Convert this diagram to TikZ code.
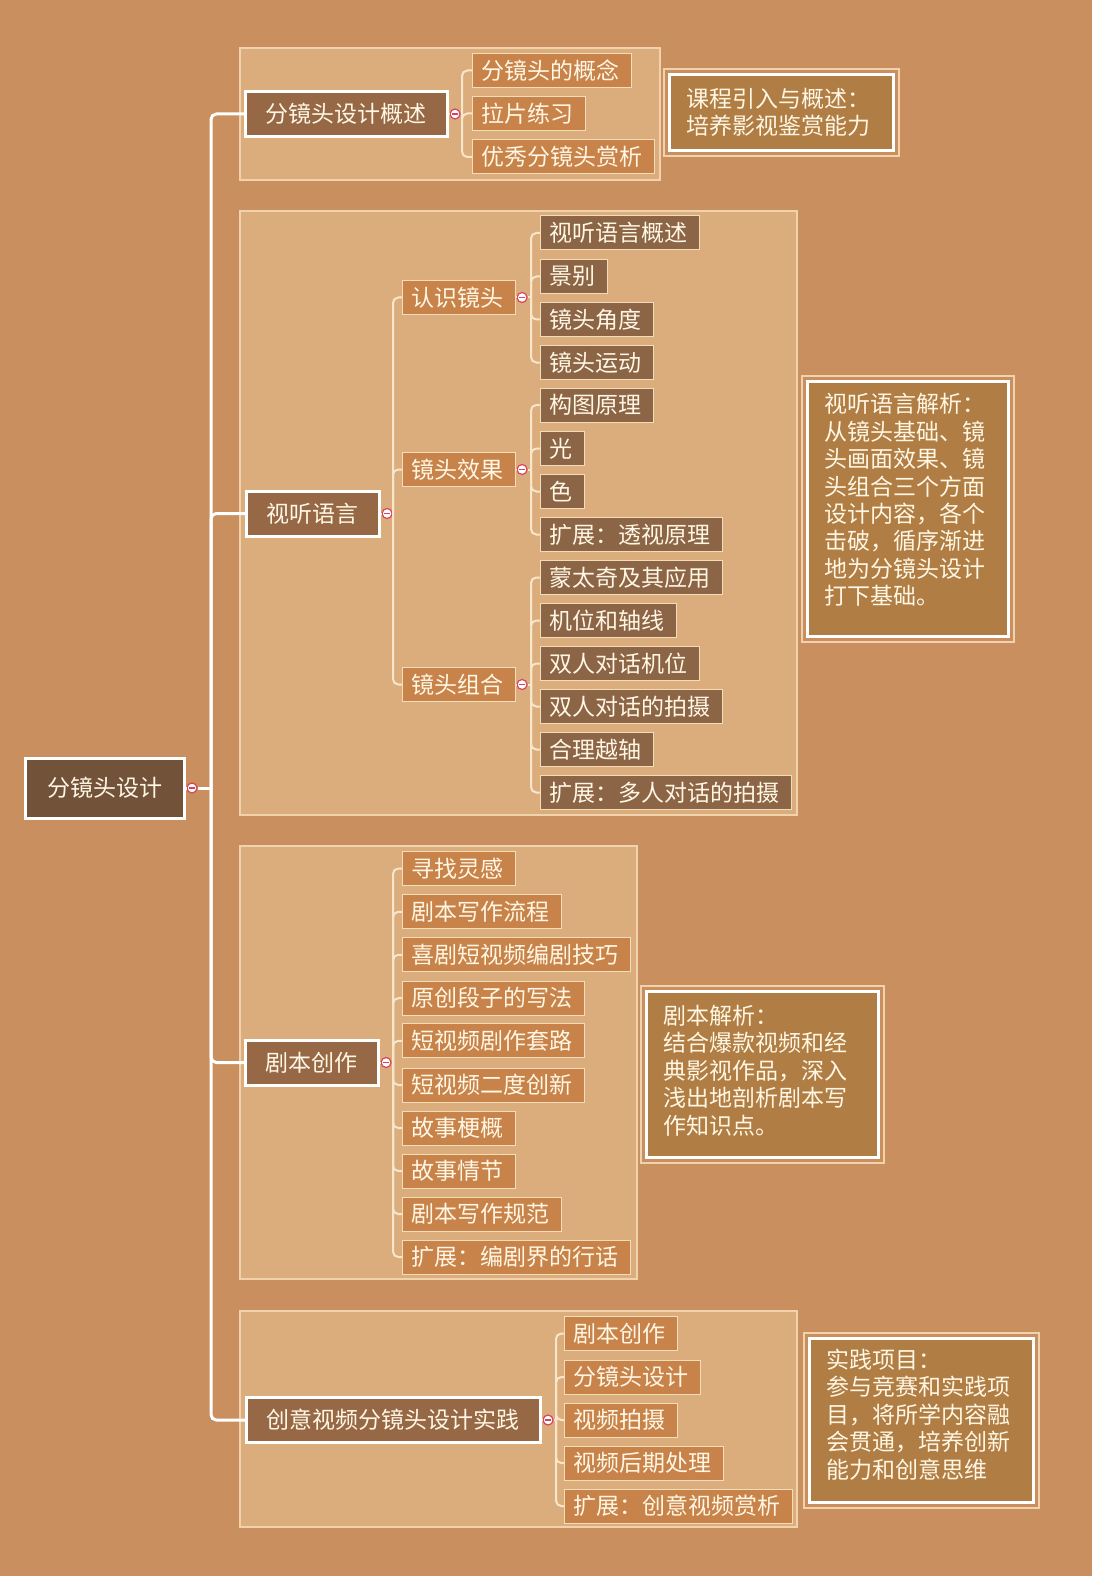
\documentclass[tikz,border=0pt]{standalone}
\usepackage{fontspec}
\setmainfont{Noto Sans CJK SC}
\definecolor{bg}{HTML}{C98F5F}
\definecolor{grp}{HTML}{DBAD7C}
\definecolor{grpline}{HTML}{F0D2AC}
\definecolor{rootfill}{HTML}{73523A}
\definecolor{lonefill}{HTML}{976846}
\definecolor{orangefill}{HTML}{C8834B}
\definecolor{darkfill}{HTML}{8C6446}
\definecolor{sumfill}{HTML}{B07D44}
\definecolor{txt}{HTML}{FFF7E4}
\definecolor{conn}{HTML}{F7E6CC}
\definecolor{leafline}{HTML}{F5DCB8}
\definecolor{foldred}{HTML}{D8435C}
\newcommand{\sumpad}[1]{\par\nointerlineskip\rule{0pt}{#1}}
\begin{document}
\begin{tikzpicture}[x=0.75pt,y=-0.75pt,
  nbase/.style={rectangle, anchor=west, text=txt, font=\fontsize{17.25pt}{20pt}\selectfont},
  rootbox/.style={nbase, fill=rootfill, draw=white, line width=2.25pt, minimum height=45pt, inner xsep=16.5pt},
  lonebox/.style={nbase, fill=lonefill, draw=white, line width=2.25pt, minimum height=33.75pt, inner xsep=14.65pt, execute at end node={\kern1.5pt}},
  orbox/.style={nbase, fill=orangefill, draw=leafline, line width=0.75pt, minimum height=25.5pt, inner xsep=6.4pt, execute at end node={\kern3pt}},
  dkbox/.style={orbox, fill=darkfill},
  sumbox/.style={rectangle, anchor=north west, text=txt, fill=sumfill, draw=white, line width=2.25pt, align=left, inner xsep=12.75pt, font=\fontsize{17.25pt}{20.6pt}\selectfont},
  sumouter/.style={draw=grpline, line width=0.9pt},
  grpbox/.style={fill=grp, draw=grpline, line width=0.9pt},
  foldc/.style={circle, draw=foldred, fill=white, line width=0.9pt, minimum size=7.5pt, inner sep=0pt,
    path picture={\draw[foldred, line width=1.1pt] ([xshift=-2.2pt]path picture bounding box.center) -- ([xshift=2.2pt]path picture bounding box.center);}},
  trunkln/.style={draw=white, line width=2.25pt, rounded corners=4pt},
  branchln/.style={draw=conn, line width=1.5pt, rounded corners=4pt}
]
\fill[bg] (0,0) rectangle (1092,1576);
\useasboundingbox (0,0) rectangle (1092,1576);

% group panels
\draw[grpbox] (240,48) rectangle (660,180);
\draw[grpbox] (240,211) rectangle (797,815);
\draw[grpbox] (240,846) rectangle (637,1279);
\draw[grpbox] (240,1311) rectangle (797,1527);

% root and level 1
\node[rootbox] (root) at (24,788) {分镜头设计};
\node[lonebox] (A) at (244,114) {分镜头设计概述};
\node[lonebox] (B) at (245,513.5) {视听语言};
\node[lonebox] (C) at (244,1062.5) {剧本创作};
\node[lonebox] (D) at (245,1420) {创意视频分镜头设计实践};

% group 1 leaves
\node[orbox] (a1) at (472,70.5) {分镜头的概念};
\node[orbox] (a2) at (472,113.5) {拉片练习};
\node[orbox] (a3) at (472,157) {优秀分镜头赏析};

% group 2
\node[orbox] (b1) at (402,297.5) {认识镜头};
\node[orbox] (b2) at (402,469.5) {镜头效果};
\node[orbox] (b3) at (402,684.5) {镜头组合};
\node[dkbox] (b11) at (540,233) {视听语言概述};
\node[dkbox] (b12) at (540,276.5) {景别};
\node[dkbox] (b13) at (540,319.5) {镜头角度};
\node[dkbox] (b14) at (540,362.5) {镜头运动};
\node[dkbox] (b21) at (540,405) {构图原理};
\node[dkbox] (b22) at (540,448.5) {光};
\node[dkbox] (b23) at (540,491.5) {色};
\node[dkbox] (b24) at (540,534.5) {扩展：透视原理};
\node[dkbox] (b31) at (540,577.5) {蒙太奇及其应用};
\node[dkbox] (b32) at (540,620.5) {机位和轴线};
\node[dkbox] (b33) at (540,663.5) {双人对话机位};
\node[dkbox] (b34) at (540,706.5) {双人对话的拍摄};
\node[dkbox] (b35) at (540,749.5) {合理越轴};
\node[dkbox] (b36) at (540,792.5) {扩展：多人对话的拍摄};

% group 3 leaves
\node[orbox] (c1) at (402,868.5) {寻找灵感};
\node[orbox] (c2) at (402,911.8) {剧本写作流程};
\node[orbox] (c3) at (402,954.8) {喜剧短视频编剧技巧};
\node[orbox] (c4) at (402,998.2) {原创段子的写法};
\node[orbox] (c5) at (402,1040.8) {短视频剧作套路};
\node[orbox] (c6) at (402,1085) {短视频二度创新};
\node[orbox] (c7) at (402,1128) {故事梗概};
\node[orbox] (c8) at (402,1171) {故事情节};
\node[orbox] (c9) at (402,1214) {剧本写作规范};
\node[orbox] (c10) at (402,1257) {扩展：编剧界的行话};

% group 4 leaves
\node[orbox] (d1) at (564,1333.5) {剧本创作};
\node[orbox] (d2) at (564,1377) {分镜头设计};
\node[orbox] (d3) at (564,1420) {视频拍摄};
\node[orbox] (d4) at (564,1463) {视频后期处理};
\node[orbox] (d5) at (564,1506) {扩展：创意视频赏析};

% fold markers
\node[foldc] (f0) at ([xshift=4.5pt]root.east) {};
\node[foldc] (fA) at ([xshift=4.5pt]A.east) {};
\node[foldc] (fB) at ([xshift=4.5pt]B.east) {};
\node[foldc] (fC) at ([xshift=4.5pt]C.east) {};
\node[foldc] (fD) at ([xshift=4.5pt]D.east) {};
\node[foldc] (fb1) at ([xshift=4.5pt]b1.east) {};
\node[foldc] (fb2) at ([xshift=4.5pt]b2.east) {};
\node[foldc] (fb3) at ([xshift=4.5pt]b3.east) {};

% vertical rails
\coordinate (vR) at (211,0);
\coordinate (vA) at (462,0);
\coordinate (vB) at (393,0);
\coordinate (vb) at (531,0);
\coordinate (vC) at (393,0);
\coordinate (vD) at (556,0);

% trunk
\draw[trunkln] (root.east) -- (f0.west);
\draw[trunkln] (f0.east) -- (f0.east -| vR);
\foreach \n in {A,B,C,D} {
  \draw[trunkln] (f0.east -| vR) |- (\n.west);
}

% branches
\draw[branchln] (A.east) -- (fA.west);
\draw[branchln] (fA.east) -- (fA.east -| vA);
\foreach \n in {a1,a2,a3} { \draw[branchln] (fA.east -| vA) |- (\n.west); }

\draw[branchln] (B.east) -- (fB.west);
\draw[branchln] (fB.east) -- (fB.east -| vB);
\foreach \n in {b1,b2,b3} { \draw[branchln] (fB.east -| vB) |- (\n.west); }

\draw[branchln] (b1.east) -- (fb1.west);
\draw[branchln] (fb1.east) -- (fb1.east -| vb);
\foreach \n in {b11,b12,b13,b14} { \draw[branchln] (fb1.east -| vb) |- (\n.west); }

\draw[branchln] (b2.east) -- (fb2.west);
\draw[branchln] (fb2.east) -- (fb2.east -| vb);
\foreach \n in {b21,b22,b23,b24} { \draw[branchln] (fb2.east -| vb) |- (\n.west); }

\draw[branchln] (b3.east) -- (fb3.west);
\draw[branchln] (fb3.east) -- (fb3.east -| vb);
\foreach \n in {b31,b32,b33,b34,b35,b36} { \draw[branchln] (fb3.east -| vb) |- (\n.west); }

\draw[branchln] (C.east) -- (fC.west);
\draw[branchln] (fC.east) -- (fC.east -| vC);
\foreach \n in {c1,c2,c3,c4,c5,c6,c7,c8,c9,c10} { \draw[branchln] (fC.east -| vC) |- (\n.west); }

\draw[branchln] (D.east) -- (fD.west);
\draw[branchln] (fD.east) -- (fD.east -| vD);
\foreach \n in {d1,d2,d3,d4,d5} { \draw[branchln] (fD.east -| vD) |- (\n.west); }

% summaries
\node[sumbox, text width=142.5pt, minimum height=57pt] (s1) at (668,73) {课程引入与概述：\\培养影视鉴赏能力};
\node[sumbox, text width=125.25pt, minimum height=191.25pt] (s2) at (806,380) {视听语言解析：\\从镜头基础、镜\\头画面效果、镜\\头组合三个方面\\设计内容，各个\\击破，循序渐进\\地为分镜头设计\\打下基础。\sumpad{13.5pt}};
\node[sumbox, text width=148.5pt, minimum height=124.5pt] (s3) at (645,990) {剧本解析：\\结合爆款视频和经\\典影视作品，深入\\浅出地剖析剧本写\\作知识点。\sumpad{6pt}};
\node[sumbox, text width=142.5pt, minimum height=123pt] (s4) at (808,1337) {实践项目：\\参与竞赛和实践项\\目，将所学内容融\\会贯通，培养创新\\能力和创意思维\sumpad{9pt}};
\foreach \s in {s1,s2,s3,s4} {
  \draw[sumouter] ([shift={(-4,-4)}]\s.north west) rectangle ([shift={(4,4)}]\s.south east);
}
\end{tikzpicture}
\end{document}
